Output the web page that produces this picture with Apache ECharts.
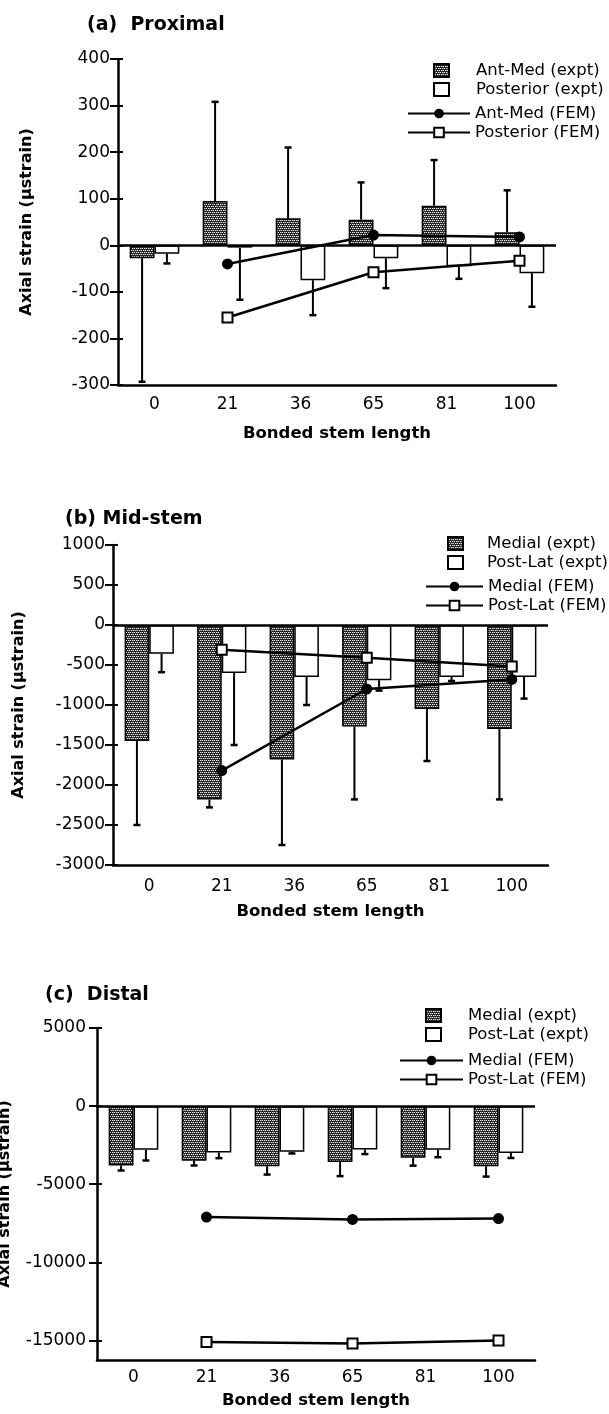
<!DOCTYPE html>
<html>
<head>
<meta charset="utf-8">
<script src="https://cdn.jsdelivr.net/npm/echarts@6/dist/echarts.min.js"></script>
<style>
  html, body { margin: 0; padding: 0; background: #fff; }
  #chart { width: 609px; height: 1414px; }
</style>
</head>
<body>
<div id="chart"></div>
<script>
// Bonded stem length categories shared by all three panels
const categories = ['0', '21', '36', '65', '81', '100'];

// (a) Proximal gauges: experimental means, SD, and FEM predictions (µstrain)
const proxAntMedExpt = [-28, 95, 58, 55, 85, 28];
const proxAntMedErr = [265, 213, 152, 80, 98, 90];
const proxPosteriorExpt = [-18, -5, -75, -28, -45, -60];
const proxPosteriorErr = [21, 112, 75, 64, 27, 72];
const proxAntMedFem = [null, -40, null, 22, null, 18];
const proxPosteriorFem = [null, -155, null, -58, null, -33];

// (b) Mid-stem gauges
const midMedialExpt = [-1450, -2180, -1680, -1270, -1050, -1300];
const midMedialErr = [1050, 100, 1070, 910, 650, 880];
const midPostLatExpt = [-360, -600, -650, -690, -650, -650];
const midPostLatErr = [230, 900, 350, 130, 50, 270];
const midMedialFem = [null, -1820, null, -800, null, -680];
const midPostLatFem = [null, -310, null, -410, null, -520];

// (c) Distal gauges
const distMedialExpt = [-3800, -3500, -3850, -3580, -3300, -3850];
const distMedialErr = [320, 300, 530, 900, 510, 660];
const distPostLatExpt = [-2800, -2970, -2920, -2770, -2800, -3000];
const distPostLatErr = [680, 360, 110, 300, 470, 320];
const distMedialFem = [null, -7100, null, -7250, null, -7200];
const distPostLatFem = [null, -15100, null, -15200, null, -15000];

// Tick labels of the strain axes
const proxTicks = [-300, -200, -100, 0, 100, 200, 300, 400];
const midTicks = [-3000, -2500, -2000, -1500, -1000, -500, 0, 500, 1000];
const distTicks = [-15000, -10000, -5000, 0, 5000];

const FONT = 'DejaVu Sans';

// stippled fill used for the dark experimental bars
const pat = document.createElement('canvas');
pat.width = 4; pat.height = 4;
const pg = pat.getContext('2d');
pg.fillStyle = '#262626'; pg.fillRect(0, 0, 4, 4);
pg.fillStyle = '#e6e6e6';
pg.fillRect(0, 0, 1, 1); pg.fillRect(2, 0, 1, 1);
pg.fillRect(1, 2, 1, 1); pg.fillRect(3, 2, 1, 1);
pg.fillStyle = '#7a7a7a';
pg.fillRect(1, 0, 1, 1); pg.fillRect(0, 2, 1, 1);
const darkFill = { image: pat, repeat: 'repeat' };

const BAR_W = 0.34;

function errorBars(offsetSign) {
  return function (params, api) {
    const i = api.value(0), v = api.value(1), e = api.value(2);
    const tip = v + (v < 0 ? -e : e);
    const band = api.size([1, 0])[0];
    const p0 = api.coord([i, v]);
    const p1 = api.coord([i, tip]);
    const x = p0[0] + offsetSign * band * BAR_W / 2;
    const cap = 7;
    return {
      type: 'group',
      children: [
        { type: 'line', shape: { x1: x, y1: p0[1], x2: x, y2: p1[1] }, style: { stroke: '#000', lineWidth: 2 } },
        { type: 'line', shape: { x1: x - cap / 2, y1: p1[1], x2: x + cap / 2, y2: p1[1] }, style: { stroke: '#000', lineWidth: 2.5 } }
      ]
    };
  };
}

function errData(vals, errs) {
  return vals.map((v, i) => [i, v, errs[i]]);
}

const grids = [
  { left: 118, right: 53, top: 59, height: 326, containLabel: false, outerBoundsMode: 'none' },
  { left: 113, right: 61, top: 545, height: 320, containLabel: false, outerBoundsMode: 'none' },
  { left: 97, right: 74, top: 1028, height: 332, containLabel: false, outerBoundsMode: 'none' }
];

const yCfg = [
  { min: -300, max: 400, ticks: proxTicks, nameGap: 83, labelMargin: 8 },
  { min: -3000, max: 1000, ticks: midTicks, nameGap: 86, labelMargin: 8 },
  { min: -16250, max: 5000, ticks: distTicks, nameGap: 84, labelMargin: 11 }
];
const xCfg = [
  { labelMargin: 11, nameGap: 40 },
  { labelMargin: 13, nameGap: 38 },
  { labelMargin: 9, nameGap: 32 }
];

const plain = v => String(v);

const xAxes = [], yAxes = [];
grids.forEach((g, k) => {
  xAxes.push({
    type: 'category', gridIndex: k, data: categories, position: 'bottom',
    axisLine: { onZero: false, lineStyle: { color: '#000', width: 2.5 } },
    axisTick: { length: 6, lineStyle: { color: '#000', width: 2 } },
    axisLabel: { color: '#000', fontFamily: FONT, fontSize: 17, margin: xCfg[k].labelMargin },
    name: 'Bonded stem length', nameLocation: 'middle', nameGap: xCfg[k].nameGap,
    nameTextStyle: { color: '#000', fontFamily: FONT, fontWeight: 'bold', fontSize: 16.5 }
  });
  xAxes.push({
    type: 'category', gridIndex: k, data: categories, position: 'bottom',
    axisLine: { show: false, onZero: false },
    axisTick: { inside: true, length: 6, lineStyle: { color: '#000', width: 2 } },
    axisLabel: { show: false }
  });
  const c = yCfg[k];
  yAxes.push({
    type: 'value', gridIndex: k, min: c.min, max: c.max, position: 'left',
    splitLine: { show: false },
    axisLine: { show: true, onZero: false, lineStyle: { color: '#000', width: 2.5 } },
    axisTick: { show: true, length: 8, customValues: c.ticks, lineStyle: { color: '#000', width: 2 } },
    axisLabel: { color: '#000', fontFamily: FONT, fontSize: 17, margin: c.labelMargin, customValues: c.ticks, formatter: plain },
    name: 'Axial strain (µstrain)', nameLocation: 'middle', nameRotate: 90, nameGap: c.nameGap,
    nameTextStyle: { color: '#000', fontFamily: FONT, fontWeight: 'bold', fontSize: 16 }
  });
  yAxes.push({
    type: 'value', gridIndex: k, min: c.min, max: c.max, position: 'left',
    splitLine: { show: false },
    axisLine: { show: false, onZero: false },
    axisTick: { show: true, inside: true, length: 5, customValues: c.ticks, lineStyle: { color: '#000', width: 2 } },
    axisLabel: { show: false, customValues: c.ticks }
  });
});

function panelSeries(k, names, darkVals, darkErr, whiteVals, whiteErr, femDark, femWhite) {
  const xi = k * 2, yi = k * 2;
  return [
    {
      name: names[0], type: 'bar', xAxisIndex: xi, yAxisIndex: yi, data: darkVals,
      barWidth: (BAR_W * 100) + '%', barGap: '0%',
      itemStyle: { color: darkFill, borderColor: '#000', borderWidth: 1.5 },
      markLine: {
        silent: true, symbol: 'none', label: { show: false },
        lineStyle: { color: '#000', width: 2.5, type: 'solid' },
        data: [{ yAxis: 0 }]
      },
      z: 2
    },
    {
      name: names[1], type: 'bar', xAxisIndex: xi, yAxisIndex: yi, data: whiteVals,
      barWidth: (BAR_W * 100) + '%', barGap: '0%',
      itemStyle: { color: '#fff', borderColor: '#000', borderWidth: 1.5 },
      z: 2
    },
    {
      type: 'custom', xAxisIndex: xi, yAxisIndex: yi, renderItem: errorBars(-1),
      data: errData(darkVals, darkErr), encode: { x: 0, y: 1 }, z: 3, silent: true
    },
    {
      type: 'custom', xAxisIndex: xi, yAxisIndex: yi, renderItem: errorBars(1),
      data: errData(whiteVals, whiteErr), encode: { x: 0, y: 1 }, z: 3, silent: true
    },
    {
      name: names[2], type: 'line', xAxisIndex: xi, yAxisIndex: yi, data: femDark,
      connectNulls: true, symbol: 'circle', symbolSize: 11,
      lineStyle: { color: '#000', width: 2.5 },
      itemStyle: { color: '#000' }, z: 5
    },
    {
      name: names[3], type: 'line', xAxisIndex: xi, yAxisIndex: yi, data: femWhite,
      connectNulls: true, symbol: 'rect', symbolSize: 10,
      lineStyle: { color: '#000', width: 2.5 },
      itemStyle: { color: '#fff', borderColor: '#000', borderWidth: 2 }, z: 5
    }
  ];
}

const namesA = ['Ant-Med (expt)', 'Posterior (expt)', 'Ant-Med (FEM)', 'Posterior (FEM)'];
const namesB = ['Medial (expt)', 'Post-Lat (expt)', 'Medial (FEM)', 'Post-Lat (FEM)'];

const series = [].concat(
  panelSeries(0, namesA, proxAntMedExpt, proxAntMedErr, proxPosteriorExpt, proxPosteriorErr, proxAntMedFem, proxPosteriorFem),
  panelSeries(1, namesB, midMedialExpt, midMedialErr, midPostLatExpt, midPostLatErr, midMedialFem, midPostLatFem),
  panelSeries(2, namesB, distMedialExpt, distMedialErr, distPostLatExpt, distPostLatErr, distMedialFem, distPostLatFem)
);

function legendPair(names, sqLeft, textLeft, lineLeft, lineRight, rowsTop) {
  const txt = { color: '#000', fontFamily: FONT, fontSize: 16.5 };
  const lineW = lineRight - lineLeft;
  return [
    {
      data: names.slice(0, 2), orient: 'vertical', left: sqLeft, top: rowsTop[0],
      itemWidth: 15, itemHeight: 13, itemGap: 2, selectedMode: false, icon: 'rect',
      textStyle: Object.assign({ padding: [0, 0, 0, textLeft - sqLeft - 20] }, txt)
    },
    {
      data: names.slice(2, 4), orient: 'vertical', left: lineLeft, top: rowsTop[1],
      itemWidth: lineW, itemHeight: 12, itemGap: 2, selectedMode: false,
      textStyle: txt
    }
  ];
}

const legends = [].concat(
  legendPair(namesA, 428, 470, 402, 464, [57, 100]),
  legendPair(namesB, 442, 481, 420, 477, [530, 573]),
  legendPair(namesB, 420, 462, 394, 457, [1002, 1047])
);

const titleStyle = { color: '#000', fontFamily: FONT, fontWeight: 'bold', fontSize: 19 };

const option = {
  backgroundColor: '#fff',
  animation: false,
  title: [
    { text: '(a)  Proximal', left: 82, top: 11, textStyle: titleStyle },
    { text: '(b) Mid-stem', left: 60, top: 505, textStyle: titleStyle },
    { text: '(c)  Distal', left: 40, top: 981, textStyle: titleStyle }
  ],
  legend: legends,
  grid: grids,
  xAxis: xAxes,
  yAxis: yAxes,
  series: series
};

const chart = echarts.init(document.getElementById('chart'), null, { renderer: 'canvas', width: 609, height: 1414 });
chart.setOption(option);
</script>
</body>
</html>
